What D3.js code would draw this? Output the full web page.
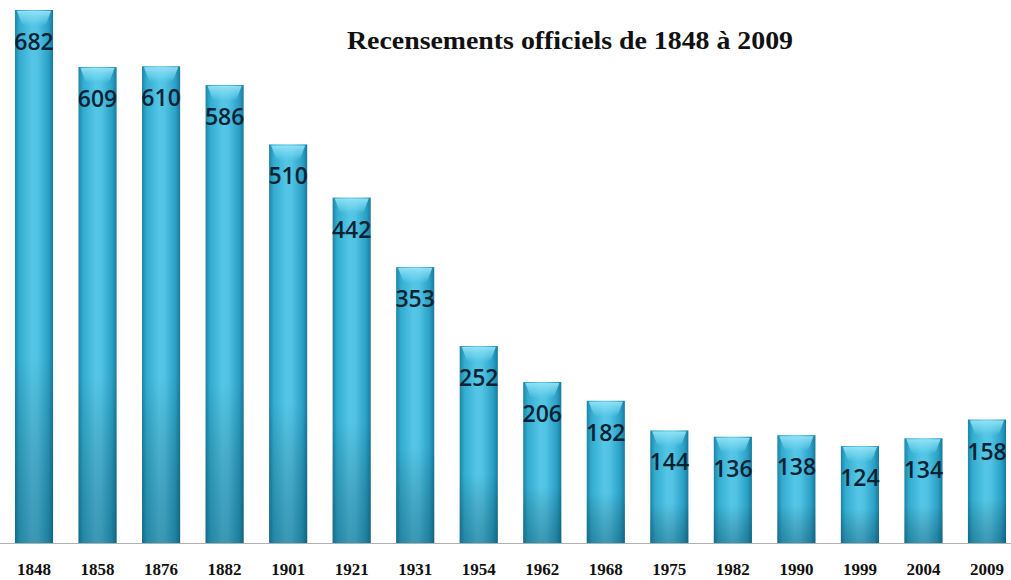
<!DOCTYPE html>
<html><head><meta charset="utf-8">
<script src="https://cdn.jsdelivr.net/npm/d3@7"></script>
<style>body{margin:0;background:#fff}svg{display:block}</style>
</head><body>
<svg id="c" width="1011" height="580"></svg>
<script>
const years = ["1848","1858","1876","1882","1901","1921","1931","1954","1962","1968","1975","1982","1990","1999","2004","2009"];
const population = [682,609,610,586,510,442,353,252,206,182,144,136,138,124,134,158];
const title = "Recensements officiels de 1848 à 2009";

const svg = d3.select("#c");
const baseY = 543;
const x = d3.scaleBand().domain(years).range([2.25, 1018.75]).paddingInner(0.4).paddingOuter(0.2);
const y = d3.scaleLinear().domain([0, 682]).range([baseY, 10]);

const defs = svg.append("defs");
const g1 = defs.append("linearGradient").attr("id","hg").attr("x1","0").attr("x2","1").attr("y1","0").attr("y2","0");
[["0%","#1b84a6"],["12%","#32accf"],["45%","#55c6e6"],["60%","#50c2e3"],["88%","#2aa0c6"],["100%","#187a9a"]].forEach(([o,c])=>g1.append("stop").attr("offset",o).attr("stop-color",c));
const g2 = defs.append("linearGradient").attr("id","vg").attr("x1","0").attr("x2","0").attr("y1","0").attr("y2","1");
[["0%","#000",0],["65%","#000",0],["100%","#003040",0.3]].forEach(([o,c,a])=>g2.append("stop").attr("offset",o).attr("stop-color",c).attr("stop-opacity",a));
const g3 = defs.append("linearGradient").attr("id","cap").attr("x1","0").attr("x2","0").attr("y1","0").attr("y2","1");
[["0%","#9be6f8",0.9],["60%","#7ddbf3",0.5],["100%","#5ccdec",0]].forEach(([o,c,a])=>g3.append("stop").attr("offset",o).attr("stop-color",c).attr("stop-opacity",a));

// axis line
svg.append("line").attr("x1",0).attr("x2",1011).attr("y1",baseY+0.5).attr("y2",baseY+0.5).attr("stroke","#b0b0b0").attr("stroke-width",1.2);

const bars = svg.append("g").selectAll("g").data(years).join("g");
bars.append("rect").attr("x",d=>x(d)).attr("width",x.bandwidth())
  .attr("y",(d,i)=>y(population[i])).attr("height",(d,i)=>baseY-y(population[i]))
  .attr("fill","url(#hg)");
bars.append("rect").attr("x",d=>x(d)).attr("width",x.bandwidth())
  .attr("y",(d,i)=>y(population[i])).attr("height",(d,i)=>baseY-y(population[i]))
  .attr("fill","url(#vg)");
bars.append("path").attr("d",(d,i)=>{
  const x0=x(d), w=x.bandwidth(), t=y(population[i]);
  return `M${x0+2},${t+1} L${x0+w-2},${t+1} L${x0+w-7},${t+14} Q${x0+w/2},${t+20} ${x0+7},${t+14} Z`;
}).attr("fill","url(#cap)");
bars.append("text").attr("x",d=>x(d)+x.bandwidth()/2).attr("y",(d,i)=>y(population[i])+40)
  .attr("text-anchor","middle").attr("font-family","'Open Sans', 'Noto Sans', sans-serif").attr("font-size",23)
  .attr("font-weight",600).attr("fill","#0b2233").text((d,i)=>population[i]);

// x axis labels
const xa = svg.append("g").attr("transform",`translate(0,${baseY})`).call(d3.axisBottom(x).tickSize(0).tickPadding(20));
xa.select(".domain").remove();
xa.selectAll("text").attr("font-family","'Liberation Serif', serif").attr("font-weight","bold").attr("font-size",17).attr("fill","#111");

svg.append("text").attr("x",570).attr("y",49).attr("text-anchor","middle")
  .attr("font-family","'Liberation Serif', serif").attr("font-weight","bold").attr("font-size",26)
  .attr("textLength",446).attr("lengthAdjust","spacingAndGlyphs").attr("fill","#111").text(title);
</script>
</body></html>
